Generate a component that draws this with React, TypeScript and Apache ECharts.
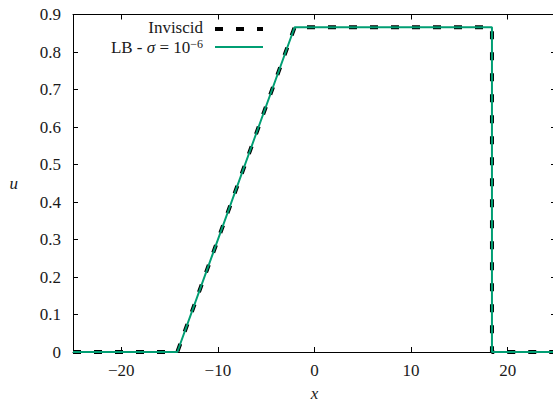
import React, { useEffect, useRef } from "react";
import * as echarts from "echarts";

// Velocity profile u(x): inviscid solution and lattice Boltzmann result
const xTickValues = [-20, -10, 0, 10, 20];
const inviscidX = [-25, -14.2, -2.06, 18.37, 18.37, 25];
const inviscidU = [0, 0, 0.866, 0.866, 0, 0];
const lbX = [-25, -14.2, -2.06, 18.37, 18.37, 25];
const lbU = [0, 0, 0.866, 0.866, 0, 0];
const seriesNames = ["Inviscid", "LB - σ = 10^-6"];

const FONT = "Liberation Serif";
const FS = 17;
const GREEN = "#009e73";
const INK = "#1a1a1a";

const pairs = (xs: number[], ys: number[]) => xs.map((x, i) => [x, ys[i]]);
const fmtMinus = (v: number) => (v < 0 ? "\u2212" + Math.abs(v) : String(v));

export default function App() {
  const ref = useRef<HTMLDivElement>(null);

  useEffect(() => {
    if (!ref.current) return;
    const chart = echarts.init(ref.current, undefined, { renderer: "svg" });
    const axisLine = { show: true, onZero: false, lineStyle: { color: "#000", width: 1 } };
    const tick = { show: true, inside: true, length: 5, lineStyle: { color: "#000", width: 1 }, customValues: xTickValues };
    const yTick = { show: true, inside: true, length: 5, lineStyle: { color: "#000", width: 1 } };
    const labelStyle = { color: INK, fontFamily: FONT, fontSize: FS };

    chart.setOption({
      animation: false,
      backgroundColor: "#fff",
      grid: { left: 73, right: -3, top: 14.5, bottom: 50, containLabel: false, outerBoundsMode: "none" },
      xAxis: [
        {
          type: "value",
          min: -25,
          max: 25,
          position: "bottom",
          axisLine,
          axisTick: tick,
          splitLine: { show: false },
          axisLabel: { ...labelStyle, margin: 10, customValues: xTickValues, formatter: fmtMinus },
          name: "x",
          nameLocation: "middle",
          nameGap: 33,
          nameTextStyle: { ...labelStyle, fontStyle: "italic" },
        },
        {
          type: "value",
          min: -25,
          max: 25,
          position: "top",
          axisLine,
          axisTick: tick,
          splitLine: { show: false },
          axisLabel: { show: false },
        },
      ],
      yAxis: [
        {
          type: "value",
          min: 0,
          max: 0.9,
          interval: 0.1,
          position: "left",
          axisLine,
          axisTick: yTick,
          splitLine: { show: false },
          axisLabel: { ...labelStyle, margin: 12, formatter: (v: number) => (v === 0 ? "0" : v.toFixed(1)) },
          name: "u",
          nameLocation: "middle",
          nameRotate: 0,
          nameGap: 55,
          nameTextStyle: { ...labelStyle, fontStyle: "italic" },
        },
        {
          type: "value",
          min: 0,
          max: 0.9,
          interval: 0.1,
          position: "right",
          axisLine,
          axisTick: yTick,
          splitLine: { show: false },
          axisLabel: { show: false },
        },
      ],
      series: [
        {
          name: seriesNames[0],
          type: "line",
          symbol: "none",
          data: pairs(inviscidX, inviscidU),
          lineStyle: { color: "#000", width: 4, type: [8, 13] },
          z: 2,
        },
        {
          name: seriesNames[1],
          type: "line",
          symbol: "none",
          data: pairs(lbX, lbU),
          lineStyle: { color: GREEN, width: 2 },
          z: 3,
        },
      ],
      graphic: [
        {
          type: "text",
          x: 203,
          y: 27.5,
          style: {
            text: "Inviscid",
            align: "right",
            verticalAlign: "middle",
            fill: INK,
            fontFamily: FONT,
            fontSize: FS,
          },
        },
        {
          type: "line",
          shape: { x1: 215, y1: 29, x2: 263, y2: 29 },
          style: { stroke: "#000", lineWidth: 4, lineDash: [8, 13] },
        },
        {
          type: "text",
          x: 203,
          y: 47,
          style: {
            text: "LB - {s|σ} = 10{sup|\u22126}",
            align: "right",
            verticalAlign: "middle",
            fill: INK,
            fontFamily: FONT,
            fontSize: FS,
            rich: {
              s: { fontFamily: FONT, fontSize: FS, fontStyle: "italic", fill: INK, lineHeight: 18 },
              sup: { fontFamily: FONT, fontSize: 12, fill: INK, verticalAlign: "top", lineHeight: 18, padding: [0, 0, 7, 0] },
            },
          },
        },
        {
          type: "line",
          shape: { x1: 215, y1: 47, x2: 263, y2: 47 },
          style: { stroke: GREEN, lineWidth: 2 },
        },
      ],
    });
    return () => chart.dispose();
  }, []);

  return <div ref={ref} style={{ position: "fixed", left: 0, top: 0, width: 553, height: 402 }} />;
}
